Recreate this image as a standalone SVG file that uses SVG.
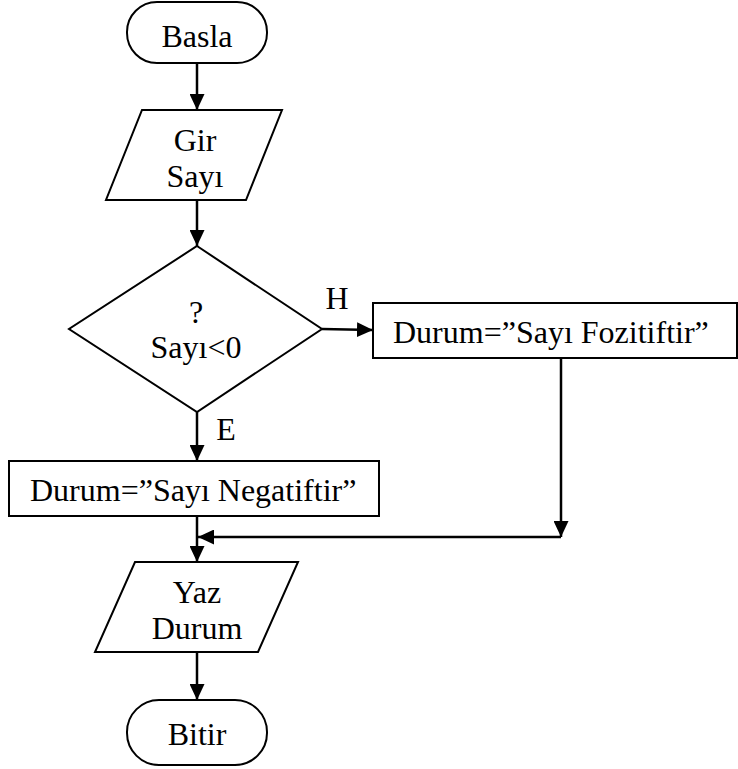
<svg xmlns="http://www.w3.org/2000/svg" width="738" height="769" viewBox="0 0 738 769">
  <style>
    .shape { fill: #ffffff; stroke: #000000; stroke-width: 2; }
    .conn { fill: none; stroke: #000000; stroke-width: 2.5; }
    .lbl { font-family: "Liberation Serif", "Times New Roman", serif; font-size: 32px; fill: #000000; }
    .mid { text-anchor: middle; }
  </style>
  <defs>
    <marker id="arrow" markerUnits="userSpaceOnUse" markerWidth="17" markerHeight="15" refX="16" refY="7.5" orient="auto">
      <path d="M0,0 L16,7.5 L0,15 Z" fill="#000000"/>
    </marker>
  </defs>

  <!-- connectors -->
  <g id="connectors">
    <line class="conn" x1="197" y1="63" x2="197" y2="110" marker-end="url(#arrow)"/>
    <line class="conn" x1="197" y1="200" x2="197" y2="246" marker-end="url(#arrow)"/>
    <line class="conn" x1="322" y1="329" x2="373" y2="330" marker-end="url(#arrow)"/>
    <line class="conn" x1="197" y1="412" x2="197" y2="461" marker-end="url(#arrow)"/>
    <line class="conn" x1="561" y1="358" x2="561" y2="537" marker-end="url(#arrow)"/>
    <line class="conn" x1="561" y1="537" x2="198" y2="537" marker-end="url(#arrow)"/>
    <line class="conn" x1="197" y1="516" x2="197" y2="562" marker-end="url(#arrow)"/>
    <line class="conn" x1="197" y1="652" x2="197" y2="700" marker-end="url(#arrow)"/>
    <text class="lbl mid" x="337" y="309">H</text>
    <text class="lbl mid" x="226" y="440">E</text>
  </g>

  <!-- start terminal -->
  <g id="basla">
    <rect class="shape" x="127" y="2" width="140" height="61" rx="30" ry="30"/>
    <text class="lbl mid" x="197" y="47">Basla</text>
  </g>

  <!-- input -->
  <g id="gir-sayi">
    <polygon class="shape" points="142,110 282,110 246,200 106,200"/>
    <text class="lbl mid" x="195" y="151">Gir</text>
    <text class="lbl mid" x="195" y="187">Sayı</text>
  </g>

  <!-- decision -->
  <g id="karar">
    <polygon class="shape" points="197,246 322,329 197,412 69,329"/>
    <text class="lbl mid" x="196" y="323">?</text>
    <text class="lbl mid" x="196" y="358">Sayı&lt;0</text>
  </g>

  <!-- positive branch -->
  <g id="pozitif">
    <rect class="shape" x="373" y="303" width="364" height="55"/>
    <text class="lbl" x="393" y="343">Durum=”Sayı Fozitiftir”</text>
  </g>

  <!-- negative branch -->
  <g id="negatif">
    <rect class="shape" x="9" y="461" width="370" height="55"/>
    <text class="lbl" x="30" y="501">Durum=”Sayı Negatiftir”</text>
  </g>

  <!-- output -->
  <g id="yaz-durum">
    <polygon class="shape" points="135,562 298,562 258,652 95,652"/>
    <text class="lbl mid" x="197" y="603">Yaz</text>
    <text class="lbl mid" x="197" y="639">Durum</text>
  </g>

  <!-- end terminal -->
  <g id="bitir">
    <rect class="shape" x="127" y="700" width="140" height="65" rx="32" ry="32"/>
    <text class="lbl mid" x="197" y="745">Bitir</text>
  </g>
</svg>
